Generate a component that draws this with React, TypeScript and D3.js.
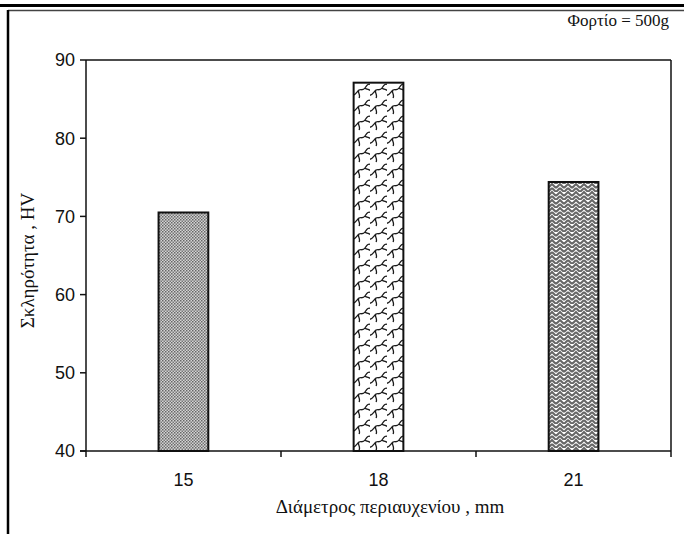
import React from "react";
import * as d3 from "d3";

const categories = ["15", "18", "21"];
const values = [70.5, 87.1, 74.4];
const yTicks = [40, 50, 60, 70, 80, 90];
const patterns = ["dots", "scales", "herring"];

const W = 684, H = 534;
const M = { left: 86, right: 671, top: 60, bottom: 451 };
const SERIF = "'Liberation Serif', 'Times New Roman', 'DejaVu Serif', serif";
const SANS = "'Liberation Sans', Arial, sans-serif";

export default function App() {
  const x = d3.scaleBand().domain(categories).range([M.left, M.right]).paddingInner(0.745).paddingOuter(0.372);
  const xb = d3.scaleBand().domain(categories).range([M.left, M.right]);
  const y = d3.scaleLinear().domain([40, 90]).range([M.bottom, M.top]);
  return (
    <div style={{ position: "absolute", left: 0, top: 0 }}>
      <svg width={W} height={H} style={{ display: "block" }}>
        <defs>
          <pattern id="dots" width="3" height="3" patternUnits="userSpaceOnUse">
            <rect width="3" height="3" fill="#d4d4d4" />
            <rect width="1.5" height="1.5" fill="#666" />
            <rect x="1.5" y="1.5" width="1.5" height="1.5" fill="#777" />
          </pattern>
          <pattern id="scales" width="17" height="16" patternUnits="userSpaceOnUse" x="353" y="82">
            <rect width="17" height="16" fill="#fff" />
            <path d="M-2,13 C2,15 4,9 6,8 C8,7 10,9 12,6 C14,3 15,1 19,3 M6,8 C4,10 8,13 6,16 M-2,-3 C2,-1 4,-7 6,-8 M12,6 C14,8 17,7 19,10"
              fill="none" stroke="#1a1a1a" strokeWidth="1.3" />
            <path d="M6,-8 C4,-6 8,-3 6,0" fill="none" stroke="#1a1a1a" strokeWidth="1.3" />
          </pattern>
          <pattern id="herring" width="8" height="8" patternUnits="userSpaceOnUse">
            <rect width="8" height="8" fill="#fff" />
            <path d="M0,0 L4,4 M0,4 L4,8 M-1,7 L1,9 M4,4 L8,0 M4,8 L8,4 M7,9 L9,7" fill="none" stroke="#666" strokeWidth="2" />
          </pattern>
        </defs>
        <rect width={W} height={H} fill="#fff" />
        <line x1={0} x2={684} y1={5.5} y2={5.5} stroke="#000" strokeWidth={3} />
        <line x1={8} x2={684} y1={10.5} y2={10.5} stroke="#444" strokeWidth={1.5} />
        <line x1={8} x2={8} y1={10} y2={534} stroke="#000" strokeWidth={2.5} />
        {categories.map((c, i) => (
          <rect key={c} x={x(c)} y={y(values[i])} width={x.bandwidth()} height={y(40) - y(values[i])}
            fill={`url(#${patterns[i]})`} stroke="#111" strokeWidth={2} />
        ))}
        <line x1={M.left} x2={M.right} y1={M.top} y2={M.top} stroke="#111" strokeWidth={1.5} />
        <line x1={M.right} x2={M.right} y1={M.top} y2={M.bottom + 6} stroke="#111" strokeWidth={1.5} />
        <line x1={M.left} x2={M.left} y1={M.top} y2={M.bottom} stroke="#111" strokeWidth={1.5} />
        <line x1={M.left - 6} x2={M.right} y1={M.bottom} y2={M.bottom} stroke="#111" strokeWidth={1.5} />
        {yTicks.map(t => (
          <g key={t}>
            <line x1={M.left - 6} x2={M.left} y1={y(t)} y2={y(t)} stroke="#111" strokeWidth={1.5} />
            <text x={M.left - 11} y={y(t)} dy="0.35em" textAnchor="end" fontFamily={SANS} fontSize={18} fill="#111">{t}</text>
          </g>
        ))}
        {categories.map((c, i) => (
          <g key={c}>
            <line x1={xb(c)} x2={xb(c)} y1={M.bottom} y2={M.bottom + 6} stroke="#111" strokeWidth={1.5} />
            <text x={(x(c) as number) + x.bandwidth() / 2} y={486} textAnchor="middle" fontFamily={SANS} fontSize={18} fill="#111">{c}</text>
          </g>
        ))}
        <text x={390} y={513} textAnchor="middle" fontFamily={SERIF} fontSize={19} fill="#111">Διάμετρος περιαυχενίου , mm</text>
        <text transform={`translate(34,${(M.top + M.bottom) / 2 + 5}) rotate(-90)`} textAnchor="middle" fontFamily={SERIF} fontSize={19} fill="#111">Σκληρότητα , HV</text>
        <text x={669} y={26} textAnchor="end" fontFamily={SERIF} fontSize={17} fill="#111">Φορτίο = 500g</text>
      </svg>
    </div>
  );
}
